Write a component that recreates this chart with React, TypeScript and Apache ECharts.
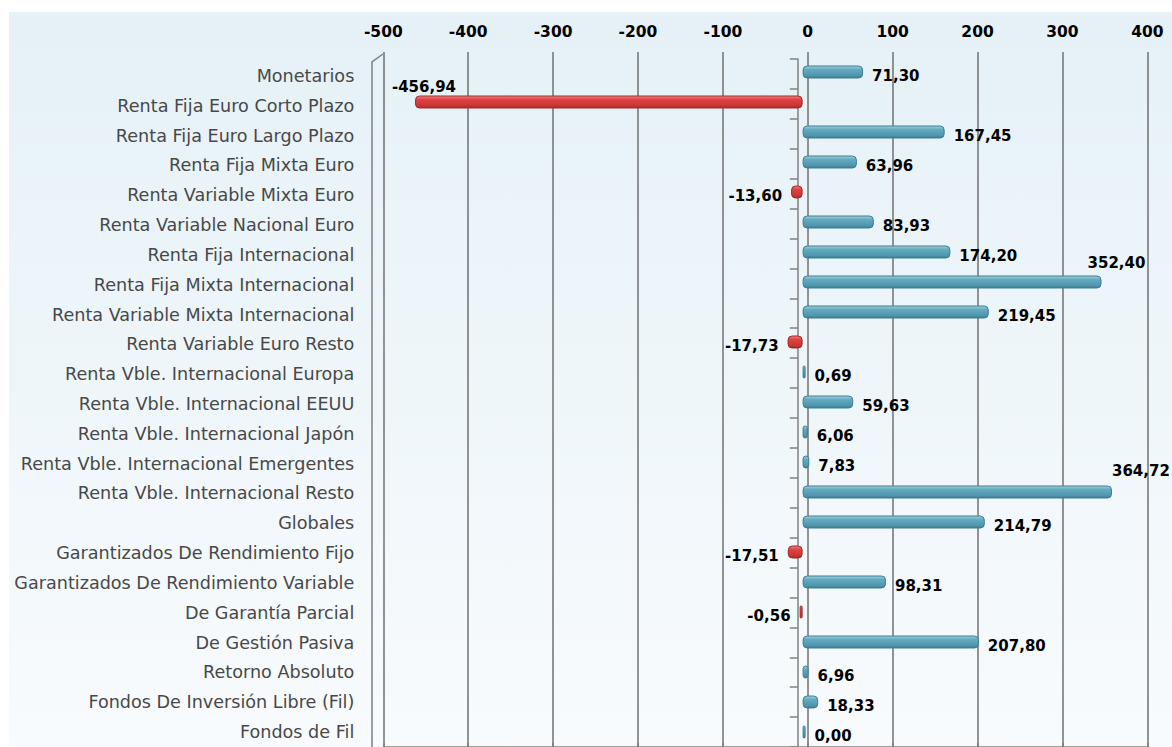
import React, { useEffect, useRef } from "react";
import * as echarts from "echarts";

const categories = [
  "Monetarios",
  "Renta Fija Euro Corto Plazo",
  "Renta Fija Euro Largo Plazo",
  "Renta Fija Mixta Euro",
  "Renta Variable Mixta Euro",
  "Renta Variable Nacional Euro",
  "Renta Fija Internacional",
  "Renta Fija Mixta Internacional",
  "Renta Variable Mixta Internacional",
  "Renta Variable Euro Resto",
  "Renta Vble. Internacional Europa",
  "Renta Vble. Internacional EEUU",
  "Renta Vble. Internacional Japón",
  "Renta Vble. Internacional Emergentes",
  "Renta Vble. Internacional Resto",
  "Globales",
  "Garantizados De Rendimiento Fijo",
  "Garantizados De Rendimiento Variable",
  "De Garantía Parcial",
  "De Gestión Pasiva",
  "Retorno Absoluto",
  "Fondos De Inversión Libre (Fil)",
  "Fondos de Fil",
];

const values = [
  71.3, -456.94, 167.45, 63.96, -13.6, 83.93, 174.2, 352.4, 219.45, -17.73,
  0.69, 59.63, 6.06, 7.83, 364.72, 214.79, -17.51, 98.31, -0.56, 207.8, 6.96,
  18.33, 0.0,
];

const axisMin = -500;
const axisMax = 400;
const axisInterval = 100;

// label placement tweaks (style only)
const labelTweaks: Record<string, { position: string; offset: number[] }> = {
  "Renta Fija Euro Corto Plazo": { position: "left", offset: [50, -15] },
  "Renta Fija Mixta Internacional": { position: "right", offset: [-23, -19] },
  "Renta Vble. Internacional Resto": { position: "right", offset: [-9, -21] },
};

const fmt = (v: number) => v.toFixed(2).replace(".", ",");

export default function App() {
  const ref = useRef<HTMLDivElement>(null);

  useEffect(() => {
    if (!ref.current) return;
    const chart = echarts.init(ref.current, null, { renderer: "svg" });

    const blue = new echarts.graphic.LinearGradient(0, 0, 0, 1, [
      { offset: 0, color: "#9fd0de" },
      { offset: 0.3, color: "#64a9bf" },
      { offset: 0.8, color: "#4f96ad" },
      { offset: 1, color: "#3a7b90" },
    ]);
    const red = new echarts.graphic.LinearGradient(0, 0, 0, 1, [
      { offset: 0, color: "#f28080" },
      { offset: 0.3, color: "#de4242" },
      { offset: 0.8, color: "#cc3434" },
      { offset: 1, color: "#a52828" },
    ]);

    const data = values.map((v, i) => {
      const neg = v < 0;
      const tweak = labelTweaks[categories[i]];
      return {
        value: v,
        itemStyle: {
          color: neg ? red : blue,
          borderColor: neg ? "#a32a2a" : "#3d7f94",
        },
        label: tweak
          ? { position: tweak.position, offset: tweak.offset }
          : { position: neg ? "left" : "right", offset: [0, 3.5] },
      };
    });

    const gridH = 693;
    const barLeft = 378.5;
    const barWidthPx = 763.4;

    chart.setOption({
      animation: false,
      backgroundColor: "transparent",
      graphic: [
        {
          type: "rect",
          z: -10,
          silent: true,
          shape: { x: 9, y: 12, width: 1163, height: 735 },
          style: {
            fill: new echarts.graphic.LinearGradient(0, 0, 0, 1, [
              { offset: 0, color: "#e5f1f7" },
              { offset: 1, color: "#f8fbfd" },
            ]),
          },
        },
        {
          type: "polyline",
          z: 1,
          silent: true,
          shape: {
            points: [
              [383, 54],
              [372, 62],
              [372, 747],
            ],
          },
          style: { stroke: "#7f7f7f", lineWidth: 1.5, fill: null },
        },
      ],
      grid: [
        // bars (back plane)
        { left: barLeft, width: barWidthPx, top: 57, height: gridH },
        // frame with top value axis
        { left: 383.3, width: 764, top: 52, height: 700 },
        // category labels
        { left: 383.3, width: 764, top: 61, height: gridH },
        // category axis line (deeper plane)
        { left: barLeft - 4.8, width: barWidthPx, top: 59, height: gridH },
      ],
      xAxis: [
        {
          gridIndex: 0,
          type: "value",
          min: axisMin,
          max: axisMax,
          interval: axisInterval,
          show: false,
        },
        {
          gridIndex: 1,
          type: "value",
          position: "top",
          min: axisMin,
          max: axisMax,
          interval: axisInterval,
          axisLine: { show: true, lineStyle: { color: "#7f7f7f", width: 1.5 } },
          axisTick: { show: true, length: 4, lineStyle: { color: "#7f7f7f", width: 1.5 } },
          splitLine: { show: true, lineStyle: { color: "#707070", width: 1.5 } },
          axisLabel: {
            margin: 12,
            color: "#000",
            fontWeight: "bold",
            fontSize: 15.5,
            fontFamily: "DejaVu Sans",
          },
        },
        {
          gridIndex: 2,
          type: "value",
          min: axisMin,
          max: axisMax,
          show: false,
        },
        {
          gridIndex: 3,
          type: "value",
          min: axisMin,
          max: axisMax,
          interval: axisInterval,
          axisLine: { show: false },
          axisTick: { show: false },
          axisLabel: { show: false },
          splitLine: { show: false },
        },
      ],
      yAxis: [
        {
          gridIndex: 0,
          type: "category",
          inverse: true,
          data: categories,
          show: false,
        },
        {
          gridIndex: 1,
          type: "value",
          show: false,
        },
        {
          gridIndex: 2,
          type: "category",
          inverse: true,
          data: categories,
          axisLine: { show: false },
          axisTick: { show: false },
          splitLine: { show: false },
          axisLabel: {
            margin: 29,
            color: "#484848",
            fontSize: 17.6,
            fontFamily: "DejaVu Sans",
          },
        },
        {
          gridIndex: 3,
          type: "category",
          inverse: true,
          data: categories,
          axisLine: { show: true, onZero: true, lineStyle: { color: "#808080", width: 1.5 } },
          axisTick: { show: true, length: 8, lineStyle: { color: "#808080", width: 1.5 } },
          axisLabel: { show: false },
          splitLine: { show: false },
        },
      ],
      series: [
        {
          type: "bar",
          xAxisIndex: 0,
          yAxisIndex: 0,
          data,
          barWidth: 13,
          barMinHeight: 3,
          z: 3,
          itemStyle: { borderWidth: 1, borderRadius: 4 },
          label: {
            show: true,
            distance: 9,
            color: "#000",
            fontWeight: "bold",
            fontSize: 15,
            fontFamily: "DejaVu Sans",
            formatter: (p: any) => fmt(p.value),
          },
        },
      ],
    });

    return () => chart.dispose();
  }, []);

  return (
    <div
      ref={ref}
      style={{ position: "absolute", left: 0, top: 0, width: 1172, height: 747 }}
    />
  );
}
